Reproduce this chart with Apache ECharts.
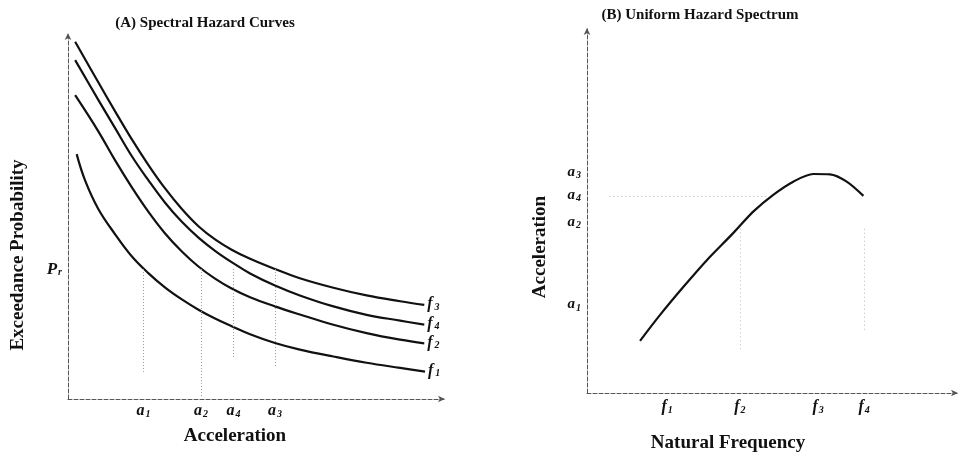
<!DOCTYPE html>
<html>
<head>
<meta charset="utf-8">
<script src="https://cdn.jsdelivr.net/npm/echarts@6/dist/echarts.min.js"></script>
<style>
  html, body { margin: 0; padding: 0; background: #fff; }
  #chart { width: 960px; height: 455px; }
</style>
</head>
<body>
<div id="chart"></div>
<script>
  // (A) spectral hazard curves: [acceleration, exceedance probability]
  const accSamples = [0.19, 0.8, 1.25, 1.69, 2.13, 2.57, 3.02, 3.46, 3.9, 4.34, 4.83, 5.49, 6.15, 7.04, 7.92, 8.81, 9.45];
  const curveF3 = [9.76, 8.66, 7.86, 7.1, 6.4, 5.76, 5.19, 4.72, 4.36, 4.08, 3.83, 3.55, 3.3, 3.04, 2.83, 2.67, 2.57];
  const curveF4 = [9.26, 8.18, 7.4, 6.64, 5.98, 5.37, 4.84, 4.41, 4.05, 3.74, 3.43, 3.1, 2.83, 2.53, 2.3, 2.14, 2.03];
  const curveF2 = [8.3, 7.32, 6.52, 5.79, 5.12, 4.53, 4.03, 3.62, 3.29, 3.02, 2.78, 2.53, 2.31, 2.03, 1.8, 1.62, 1.52];
  const curveF1Acc = [0.23, 0.45, 0.8, 1.25, 1.69, 2.13, 2.57, 3.02, 3.46, 3.9, 4.34, 4.83, 5.49, 6.15, 7.04, 7.92, 8.81, 9.47];
  const curveF1 = [6.69, 5.98, 5.2, 4.5, 3.9, 3.44, 3.05, 2.72, 2.44, 2.2, 1.99, 1.77, 1.53, 1.35, 1.16, 0.99, 0.85, 0.75];
  const curveNames = ['3', '4', '2', '1'];

  const accTicks = [2.0, 3.53, 4.39, 5.49];        // a1, a2, a4, a3 on panel A
  const accTickNames = ['1', '2', '4', '3'];
  const prLevel = 3.55;
  const guideBottoms = [0.74, 0.05, 1.12, 0.88];    // lower end of the dotted drops

  // (B) uniform hazard spectrum: [natural frequency, acceleration]
  const freqSamples = [1.43, 1.97, 2.6, 3.23, 3.94, 4.48, 5.02, 5.56, 6.1, 6.55, 7.0, 7.45];
  const uhs = [1.43, 2.14, 2.91, 3.64, 4.38, 4.97, 5.43, 5.79, 6.0, 5.99, 5.79, 5.4];
  const freqTicks = [2.16, 4.12, 6.23, 7.47];
  const freqTickNames = ['1', '2', '3', '4'];
  const uhsAccTicks = [2.41, 4.66, 5.4, 6.03];
  const uhsAccNames = ['1', '2', '4', '3'];

  const serif = '"Liberation Serif", "DejaVu Serif", serif';
  const ink = '#111';

  const chart = echarts.init(document.getElementById('chart'));

  const pairs = (xs, ys) => ys.map((y, i) => [xs[i], y]);

  const subRich = (big) => ({
    b: { fontFamily: serif, fontStyle: 'italic', fontWeight: 'bold', fontSize: big, color: ink, lineHeight: 16, verticalAlign: 'top' },
    s: { fontFamily: serif, fontStyle: 'italic', fontWeight: 'bold', fontSize: 10, color: ink, lineHeight: 10, verticalAlign: 'bottom', padding: [10, 0, 0, 1] },
  });

  const axisLine = {
    show: true,
    symbol: ['none', 'arrow'],
    symbolSize: [5, 7],
    lineStyle: { color: '#555', width: 1, type: [4, 2] },
  };

  const curveSeries = [
    pairs(accSamples, curveF3),
    pairs(accSamples, curveF4),
    pairs(accSamples, curveF2),
    pairs(curveF1Acc, curveF1),
  ].map((data, i) => ({
    type: 'line',
    xAxisIndex: 0,
    yAxisIndex: 0,
    data,
    smooth: 0.4,
    showSymbol: false,
    silent: true,
    lineStyle: { color: ink, width: 2.2 },
    endLabel: {
      show: true,
      distance: 3,
      offset: [0, -1],
      formatter: `{b|f}{s|${curveNames[i]}}`,
      rich: {
        b: { fontFamily: serif, fontStyle: 'italic', fontWeight: 'bold', fontSize: 16, color: ink, lineHeight: 16, verticalAlign: 'top' },
        s: { fontFamily: serif, fontStyle: 'italic', fontWeight: 'bold', fontSize: 10, color: ink, lineHeight: 10, verticalAlign: 'bottom', padding: [14, 0, 0, 2] },
      },
    },
  }));

  const guidesA = {
    type: 'line',
    xAxisIndex: 0,
    yAxisIndex: 0,
    data: [],
    silent: true,
    markLine: {
      symbol: 'none',
      label: { show: false },
      lineStyle: { color: '#999', width: 1, type: [1, 2] },
      data: accTicks.map((a, i) => [{ coord: [a, prLevel] }, { coord: [a, guideBottoms[i]] }]),
    },
  };

  const guidesB = {
    type: 'line',
    xAxisIndex: 1,
    yAxisIndex: 1,
    data: [],
    silent: true,
    markLine: {
      symbol: 'none',
      label: { show: false },
      lineStyle: { color: '#bbb', width: 1, type: [1, 3] },
      data: [
        [{ coord: [freqTicks[1], uhsAccTicks[1] - 0.15] }, { coord: [freqTicks[1], 1.2] }],
        [{ coord: [freqTicks[3], uhsAccTicks[2] - 0.9] }, { coord: [freqTicks[3], 1.65] }],
        [{ coord: [0.6, uhsAccTicks[2]] }, { coord: [4.84, uhsAccTicks[2]] }],
      ],
    },
  };

  const option = {
    backgroundColor: '#fff',
    animation: false,
    grid: [
      { left: 68, top: 33, width: 377, height: 366, outerBoundsMode: 'none' },
      { left: 587, top: 28, width: 371, height: 365, outerBoundsMode: 'none' },
    ],
    xAxis: [
      {
        gridIndex: 0,
        type: 'value',
        min: 0,
        max: 10,
        axisLine,
        axisTick: { show: false },
        splitLine: { show: false },
        axisLabel: {
          customValues: accTicks,
          margin: 4,
          formatter: (v) => `{b|a}{s|${accTickNames[accTicks.indexOf(v)]}}`,
          rich: subRich(16),
        },
      },
      {
        gridIndex: 1,
        type: 'value',
        min: 0,
        max: 10,
        axisLine,
        axisTick: { show: false },
        splitLine: { show: false },
        axisLabel: {
          customValues: freqTicks,
          margin: 6,
          formatter: (v) => `{b|f}{s|${freqTickNames[freqTicks.indexOf(v)]}}`,
          rich: subRich(16),
        },
      },
    ],
    yAxis: [
      {
        gridIndex: 0,
        type: 'value',
        min: 0,
        max: 10,
        axisLine,
        axisTick: { show: false },
        splitLine: { show: false },
        axisLabel: {
          customValues: [prLevel],
          margin: 6,
          formatter: () => '{b|P}{s|r}',
          rich: subRich(17),
        },
      },
      {
        gridIndex: 1,
        type: 'value',
        min: 0,
        max: 10,
        axisLine,
        axisTick: { show: false },
        splitLine: { show: false },
        axisLabel: {
          customValues: uhsAccTicks,
          margin: 6,
          formatter: (v) => `{b|a}{s|${uhsAccNames[uhsAccTicks.indexOf(v)]}}`,
          rich: subRich(15),
        },
      },
    ],
    graphic: [
      { type: 'text', x: 205, y: 23, style: { text: '(A) Spectral Hazard Curves', font: `bold 15px ${serif}`, fill: ink, align: 'center', verticalAlign: 'middle' } },
      { type: 'text', x: 700, y: 15, style: { text: '(B) Uniform Hazard Spectrum', font: `bold 15px ${serif}`, fill: ink, align: 'center', verticalAlign: 'middle' } },
      { type: 'text', x: 18, y: 255, rotation: Math.PI / 2, style: { text: 'Exceedance Probability', font: `bold 19px ${serif}`, fill: ink, align: 'center', verticalAlign: 'middle' } },
      { type: 'text', x: 235, y: 436, style: { text: 'Acceleration', font: `bold 19px ${serif}`, fill: ink, align: 'center', verticalAlign: 'middle' } },
      { type: 'text', x: 540, y: 247, rotation: Math.PI / 2, style: { text: 'Acceleration', font: `bold 19px ${serif}`, fill: ink, align: 'center', verticalAlign: 'middle' } },
      { type: 'text', x: 728, y: 443, style: { text: 'Natural Frequency', font: `bold 19px ${serif}`, fill: ink, align: 'center', verticalAlign: 'middle' } },
    ],
    series: [
      ...curveSeries,
      guidesA,
      {
        type: 'line',
        xAxisIndex: 1,
        yAxisIndex: 1,
        data: pairs(freqSamples, uhs),
        smooth: 0.3,
        showSymbol: false,
        silent: true,
        lineStyle: { color: ink, width: 2.2 },
      },
      guidesB,
    ],
  };

  chart.setOption(option);
</script>
</body>
</html>
